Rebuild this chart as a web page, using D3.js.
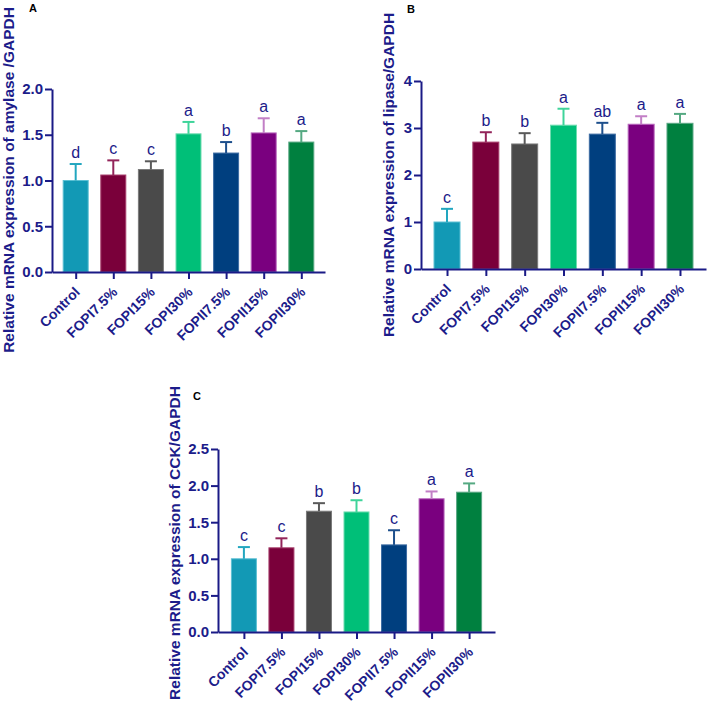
<!DOCTYPE html>
<html>
<head>
<meta charset="utf-8">
<script src="https://cdn.jsdelivr.net/npm/d3@7"></script>
<style>
  html, body { margin: 0; padding: 0; background: #fff; }
  svg { display: block; font-family: "Liberation Sans", Arial, sans-serif; }
</style>
</head>
<body>
<svg id="chart" width="708" height="702"></svg>
<script>
// ---- data ----
const categories = ["Control", "FOPI7.5%", "FOPI15%", "FOPI30%", "FOPII7.5%", "FOPII15%", "FOPII30%"];

const amylaseMean = [1.00, 1.06, 1.12, 1.51, 1.30, 1.52, 1.42];
const amylaseSD = [0.18, 0.16, 0.09, 0.13, 0.12, 0.16, 0.12];
const amylaseLetters = ["d", "c", "c", "a", "b", "a", "a"];
const amylaseTicks = [0, 0.5, 1.0, 1.5, 2.0];

const lipaseMean = [1.00, 2.70, 2.66, 3.06, 2.87, 3.08, 3.10];
const lipaseSD = [0.28, 0.21, 0.23, 0.35, 0.24, 0.17, 0.20];
const lipaseLetters = ["c", "b", "b", "a", "ab", "a", "a"];
const lipaseTicks = [0, 1, 2, 3, 4];

const cckMean = [1.00, 1.15, 1.65, 1.64, 1.19, 1.82, 1.91];
const cckSD = [0.16, 0.13, 0.11, 0.16, 0.20, 0.10, 0.12];
const cckLetters = ["c", "c", "b", "b", "c", "a", "a"];
const cckTicks = [0, 0.5, 1.0, 1.5, 2.0, 2.5];

// ---- styles ----
const fillColors = ["#1299b5", "#7a003a", "#4a4a4a", "#00bf78", "#003f7f", "#7a007f", "#00803f"];
const edgeColors = ["#5cc0d3", "#a8406d", "#7a7a7a", "#6fdcb0", "#3d6ca3", "#b868bd", "#5aa784"];
const errColors = ["#22a6bf", "#93245a", "#5a5a5a", "#3fd49a", "#1d4f8c", "#c27fc6", "#55a982"];
const navy = "#1a1a86";
const textNavy = "#1c1c8a";

const svg = d3.select("#chart");

function drawPanel(opt) {
  const g = svg.append("g");
  const x = d3.scalePoint().domain(categories).range([opt.x0, opt.x1]).padding(opt.pad);
  const y = d3.scaleLinear().domain(opt.domain).range([opt.y0, opt.yTop]);

  // bars
  g.selectAll("rect.bar").data(categories).enter().append("rect")
    .attr("x", (d) => x(d) - opt.bw / 2)
    .attr("y", (d, i) => y(opt.mean[i]))
    .attr("width", opt.bw)
    .attr("height", (d, i) => y(0) - y(opt.mean[i]))
    .attr("fill", (d, i) => fillColors[i])
    .attr("stroke", (d, i) => edgeColors[i])
    .attr("stroke-width", 1);

  // error bars
  g.selectAll("line.err").data(categories).enter().append("line")
    .attr("x1", (d) => x(d)).attr("x2", (d) => x(d))
    .attr("y1", (d, i) => y(opt.mean[i]))
    .attr("y2", (d, i) => y(opt.mean[i] + opt.sd[i]))
    .attr("stroke", (d, i) => errColors[i]).attr("stroke-width", 2);
  g.selectAll("line.cap").data(categories).enter().append("line")
    .attr("x1", (d) => x(d) - 6).attr("x2", (d) => x(d) + 6)
    .attr("y1", (d, i) => y(opt.mean[i] + opt.sd[i]))
    .attr("y2", (d, i) => y(opt.mean[i] + opt.sd[i]))
    .attr("stroke", (d, i) => errColors[i]).attr("stroke-width", 2);

  // letters
  g.selectAll("text.sig").data(categories).enter().append("text")
    .attr("x", (d) => x(d))
    .attr("y", (d, i) => y(opt.mean[i] + opt.sd[i]) - 6)
    .attr("text-anchor", "middle")
    .attr("font-size", 16)
    .attr("fill", textNavy)
    .text((d, i) => opt.letters[i]);

  // y axis
  const ya = g.append("g").attr("transform", `translate(${opt.x0},0)`)
    .call(d3.axisLeft(y).tickValues(opt.ticks).tickSize(7).tickSizeOuter(0).tickPadding(2).tickFormat(d3.format(opt.fmt)));
  ya.selectAll("path, line").attr("stroke", navy).attr("stroke-width", 2);
  ya.selectAll("text").attr("font-size", 15).attr("font-weight", "bold").attr("fill", textNavy)
    .attr("font-family", "Liberation Sans, Arial, sans-serif");

  // x axis
  const xa = g.append("g").attr("transform", `translate(0,${opt.y0})`)
    .call(d3.axisBottom(x).tickSize(7).tickSizeOuter(0).tickFormat(""));
  xa.selectAll("path, line").attr("stroke", navy).attr("stroke-width", 2);

  g.selectAll("text.xl").data(categories).enter().append("text")
    .attr("transform", (d) => `translate(${x(d) + 5},${opt.y0 + 21}) rotate(-45)`)
    .attr("text-anchor", "end")
    .attr("font-size", 14).attr("font-weight", "bold").attr("fill", textNavy)
    .text((d) => d);

  // y title
  g.append("text")
    .attr("transform", `translate(${opt.tx},${opt.ty}) rotate(-90)`)
    .attr("text-anchor", "middle").attr("dy", "0.35em")
    .attr("font-size", 15.5).attr("font-weight", "bold").attr("fill", textNavy)
    .text(opt.title);

  // panel label
  g.append("text")
    .attr("x", opt.lx).attr("y", opt.ly)
    .attr("font-size", 11).attr("font-weight", "bold").attr("fill", "#000")
    .text(opt.label);
}

drawPanel({
  mean: amylaseMean, sd: amylaseSD, letters: amylaseLetters, ticks: amylaseTicks, fmt: ".1f",
  domain: [0, 2], x0: 52, x1: 325, pad: 0.63, y0: 272, yTop: 89, bw: 25,
  title: "Relative mRNA expression of amylase /GAPDH", tx: 9, ty: 180,
  label: "A", lx: 29, ly: 12
});
drawPanel({
  mean: lipaseMean, sd: lipaseSD, letters: lipaseLetters, ticks: lipaseTicks, fmt: "d",
  domain: [0, 4], x0: 421, x1: 706, pad: 0.67, y0: 269, yTop: 81, bw: 26,
  title: "Relative mRNA expression of lipase/GAPDH", tx: 389, ty: 175,
  label: "B", lx: 407, ly: 13
});
drawPanel({
  mean: cckMean, sd: cckSD, letters: cckLetters, ticks: cckTicks, fmt: ".1f",
  domain: [0, 2.5], x0: 218, x1: 495, pad: 0.69, y0: 632, yTop: 449, bw: 25,
  title: "Relative mRNA expression of CCK/GAPDH", tx: 175, ty: 543,
  label: "C", lx: 193, ly: 400
});
</script>
</body>
</html>
